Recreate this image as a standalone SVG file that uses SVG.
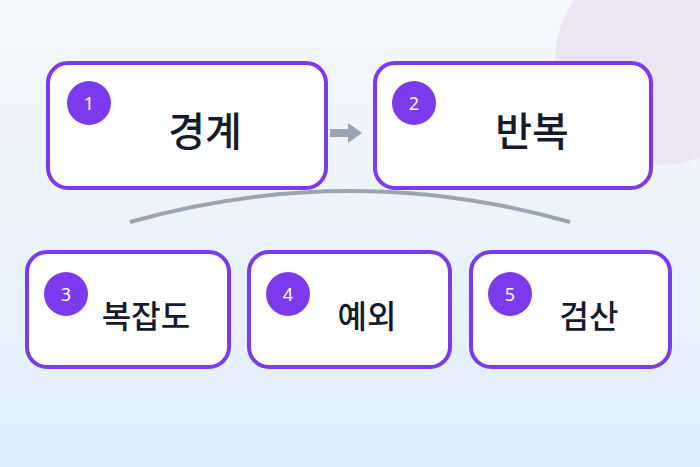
<svg xmlns="http://www.w3.org/2000/svg" width="700" height="467" viewBox="0 0 700 467">
<defs>
<linearGradient id="bg" x1="0" y1="0" x2="0" y2="1"><stop offset="0" stop-color="#f6f8fb"/><stop offset="1" stop-color="#dfeefc"/></linearGradient>
<style>
.box{fill:#fff;stroke:#7c3aed;stroke-width:4}
.num{fill:#7c3aed}
.nt{fill:#fff;font-family:"Noto Sans","Liberation Sans",sans-serif;font-size:18px;text-anchor:middle}
.lb{fill:#161a2e;font-family:"Noto Sans CJK KR",sans-serif;font-weight:500;text-anchor:middle}
.conn{stroke:#9aa5b4;stroke-width:4;fill:none}
</style>
</defs>
<rect width="700" height="467" fill="url(#bg)"/>
<circle cx="660" cy="60" r="105" fill="#ece5f6"/>
<g id="connectors">
<path d="M330,129H348V123L362,133L348,143V137H330z" fill="#9aa5b4"/>
<path class="conn" d="M130,222 Q350,160 570,222"/>
</g>
<g id="n1"><rect class="box" x="48" y="63" width="278" height="125" rx="20"/><circle class="num" cx="89" cy="103" r="22"/><text class="nt" x="89" y="110">1</text><text class="lb" x="205" y="146" font-size="40">경계</text></g>
<g id="n2"><rect class="box" x="375" y="63" width="276" height="125" rx="20"/><circle class="num" cx="414" cy="103" r="22"/><text class="nt" x="414" y="110">2</text><text class="lb" x="532" y="146" font-size="40">반복</text></g>
<g id="n3"><rect class="box" x="27" y="252" width="202" height="115" rx="20"/><circle class="num" cx="66" cy="294" r="22"/><text class="nt" x="66" y="301">3</text><text class="lb" x="146" y="328" font-size="32">복잡도</text></g>
<g id="n4"><rect class="box" x="249" y="252" width="201" height="115" rx="20"/><circle class="num" cx="288" cy="294" r="22"/><text class="nt" x="288" y="301">4</text><text class="lb" x="367" y="328" font-size="32">예외</text></g>
<g id="n5"><rect class="box" x="471" y="252" width="199" height="115" rx="20"/><circle class="num" cx="510" cy="294" r="22"/><text class="nt" x="510" y="301">5</text><text class="lb" x="589" y="328" font-size="32">검산</text></g>
</svg>
